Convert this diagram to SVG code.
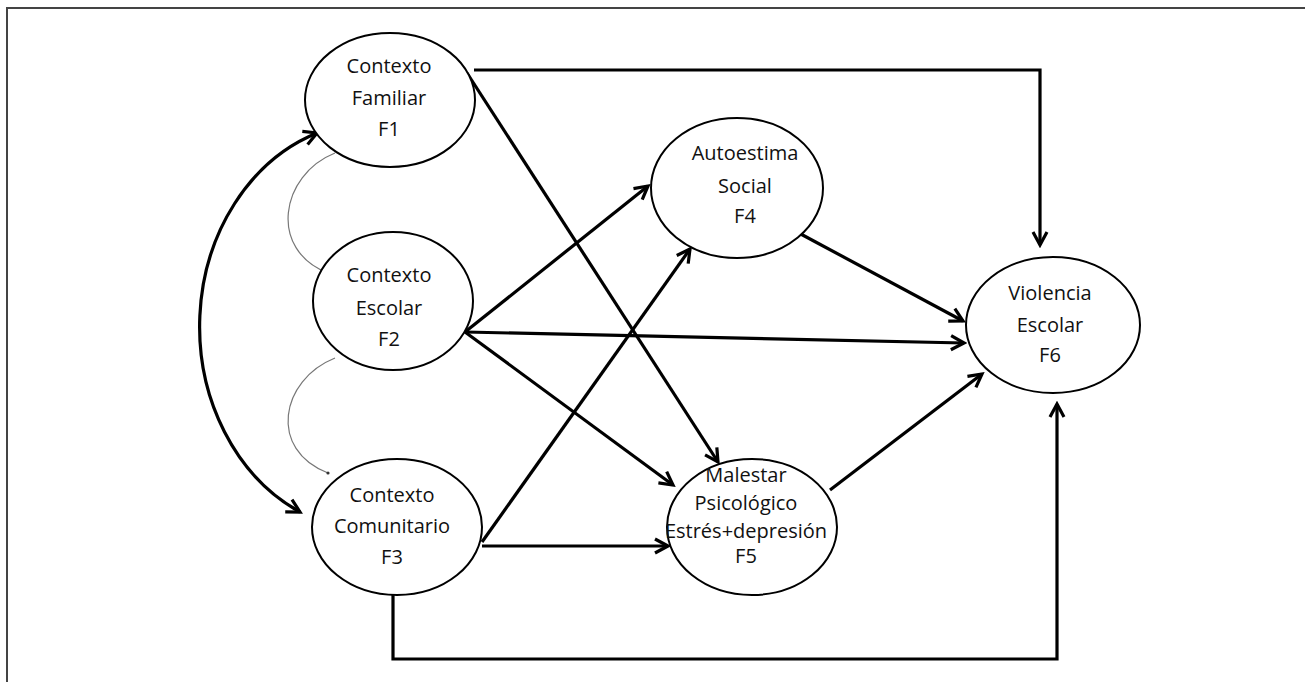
<svg xmlns="http://www.w3.org/2000/svg" width="1305" height="682" viewBox="0 0 1305 682">
<style>
.node ellipse{fill:#fff;stroke:#000;stroke-width:2}
.node text{font-family:"Open Sans","DejaVu Sans",sans-serif;font-size:20px;fill:#111;text-anchor:middle}
.c{fill:none;stroke:#000;stroke-width:3.2}
.thin{fill:none;stroke:#777;stroke-width:1.2}
</style>
<defs>
<marker id="ah" markerUnits="userSpaceOnUse" markerWidth="20" markerHeight="20" viewBox="0 0 20 20" refX="17" refY="10" orient="auto-start-reverse">
<path d="M4,3 L17,10 L4,17" fill="none" stroke="#000" stroke-width="3.2"/>
</marker>
<marker id="dot" markerUnits="userSpaceOnUse" markerWidth="6" markerHeight="6" viewBox="0 0 6 6" refX="3" refY="3">
<circle cx="3" cy="3" r="1.6" fill="#333"/>
</marker>
</defs>
<rect width="1305" height="682" fill="#fff"/>
<path d="M7,682 V8 H1305" fill="none" stroke="#444" stroke-width="2"/>
<g id="connectors">
<path class="c" d="M474,70 H1040 V245" marker-end="url(#ah)"/>
<path class="c" d="M467,73 L718,462" marker-end="url(#ah)"/>
<path class="c" d="M465,332 L648,186" marker-end="url(#ah)"/>
<path class="c" d="M465,332 L964,343" marker-end="url(#ah)"/>
<path class="c" d="M465,332 L673,485" marker-end="url(#ah)"/>
<path class="c" d="M482,542 L690,249" marker-end="url(#ah)"/>
<path class="c" d="M482,546 L668,546" marker-end="url(#ah)"/>
<path class="c" d="M393,595 V659 H1057 V404" marker-end="url(#ah)"/>
<path class="c" d="M797,232 L963,321" marker-end="url(#ah)"/>
<path class="c" d="M830,490 L982,374" marker-end="url(#ah)"/>
<path class="c" d="M317,133 A175 205 0 0 0 300,512" stroke-width="2.6" marker-start="url(#ah)" marker-end="url(#ah)"/>
<path class="thin" d="M335,153 C280,175 268,250 328,273" marker-end="url(#dot)"/>
<path class="thin" d="M335,358 C280,380 268,450 328,473" marker-end="url(#dot)"/>
</g>
<g id="F1" class="node">
<ellipse cx="390" cy="100" rx="85" ry="67"/>
<text x="389" y="73">Contexto</text>
<text x="389" y="105">Familiar</text>
<text x="389" y="136">F1</text>
</g>
<g id="F2" class="node">
<ellipse cx="393" cy="301" rx="80" ry="69"/>
<text x="389" y="282">Contexto</text>
<text x="389" y="315">Escolar</text>
<text x="389" y="346">F2</text>
</g>
<g id="F3" class="node">
<ellipse cx="397" cy="527" rx="85" ry="68"/>
<text x="392" y="502">Contexto</text>
<text x="392" y="533">Comunitario</text>
<text x="392" y="564">F3</text>
</g>
<g id="F4" class="node">
<ellipse cx="737" cy="188" rx="86" ry="70"/>
<text x="745" y="160">Autoestima</text>
<text x="745" y="193">Social</text>
<text x="745" y="223">F4</text>
</g>
<g id="F5" class="node">
<ellipse cx="752" cy="527" rx="85" ry="68"/>
<text x="746" y="482">Malestar</text>
<text x="746" y="510">Psicológico</text>
<text x="746" y="538">Estrés+depresión</text>
<text x="746" y="563">F5</text>
</g>
<g id="F6" class="node">
<ellipse cx="1053" cy="325" rx="87" ry="68"/>
<text x="1050" y="300">Violencia</text>
<text x="1050" y="332">Escolar</text>
<text x="1050" y="362">F6</text>
</g>
</svg>
